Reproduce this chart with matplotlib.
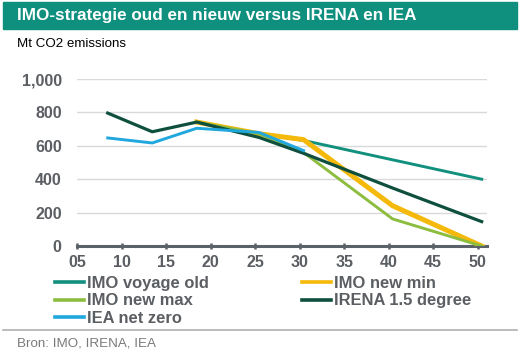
import numpy as np
import matplotlib
matplotlib.use("Agg")
import matplotlib.pyplot as plt
from matplotlib.patches import Rectangle
from matplotlib.lines import Line2D

plt.rcParams['font.family'] = ['Liberation Sans', 'DejaVu Sans']

# data (Mt CO2)
years_imo_old = [2018, 2025, 2030, 2050]
years_imo_new = [2018, 2025, 2030, 2040, 2050]
years_irena = [2008, 2013, 2018, 2025, 2030, 2040, 2050]
years_iea = [2008, 2013, 2018, 2025, 2030]

imo_voyage_old = [742, 672, 632, 400]
imo_new_min = [742, 672, 637, 241, 0]
imo_new_max = [742, 672, 560, 162, 0]
irena_15 = [796, 684, 742, 650, 555, 347, 146]
iea_nz = [647, 617, 705, 680, 571]

xtick_years = list(range(2005, 2051, 5))
xtick_labels = ['05', '10', '15', '20', '25', '30', '35', '40', '45', '50']
yticks = [0, 200, 400, 600, 800, 1000]

c_teal = '#12907e'
c_yellow = '#f4b90a'
c_lgreen = '#8dbd3f'
c_dgreen = '#0e4f3d'
c_blue = '#1fa7de'
c_text = '#5b5e62'

W, H = 523, 354
fig = plt.figure(figsize=(W / 100, H / 100), dpi=100)

# title band
fig.patches.append(Rectangle((3 / W, 1 - 29 / H), 514 / W, 27 / H,
                             transform=fig.transFigure, color='#0f8f7e', zorder=0))
fig.text(17 / W, 1 - 15.5 / H, 'IMO-strategie oud en nieuw versus IRENA en IEA',
         color='white', fontsize=12.3, fontweight='bold', va='center', ha='left')
fig.text(17 / W, 1 - 44 / H, 'Mt CO2 emissions', color='black', fontsize=9.6,
         va='center', ha='left')

ax = fig.add_axes([77 / W, 1 - 246 / H, (487 - 77) / W, (246 - 79) / H])
ax.plot(years_imo_old, imo_voyage_old, color=c_teal, lw=2.1, label='IMO voyage old', zorder=2)
ax.plot(years_imo_new, imo_new_min, color=c_yellow, lw=3.6, label='IMO new min', zorder=3)
ax.plot(years_imo_new, imo_new_max, color=c_lgreen, lw=2.1, label='IMO new max', zorder=4)
ax.plot(years_irena, irena_15, color=c_dgreen, lw=2.3, label='IRENA 1.5 degree', zorder=5)
ax.plot(years_iea, iea_nz, color=c_blue, lw=2.1, label='IEA net zero', zorder=6)

ax.set_xlim(2004.55, 2050.6)
ax.set_ylim(0, 1000)
ax.set_xticks(np.array(xtick_years) - 0.45)
ax.set_xticklabels(xtick_labels)
ax.set_yticks(yticks)
ax.set_yticklabels(['{:,}'.format(v) for v in yticks])
ax.grid(axis='y', color='#d9d9d9', lw=1.0, zorder=0)
ax.set_axisbelow(True)
for s in ['top', 'right', 'left']:
    ax.spines[s].set_visible(False)
ax.spines['bottom'].set_color('#5a6169')
ax.spines['bottom'].set_linewidth(2.2)
ax.spines['bottom'].set_zorder(1)
ax.tick_params(axis='y', length=0, pad=11, labelsize=11.5, labelcolor=c_text)
ax.tick_params(axis='x', direction='inout', length=5, width=1.8, color='#5a6169',
               pad=4, labelsize=11.5, labelcolor=c_text)
for lab in ax.get_xticklabels() + ax.get_yticklabels():
    lab.set_fontweight('bold')

# legend, two columns placed separately
def handle(c, lw):
    return Line2D([], [], color=c, lw=lw)

leg_kw = dict(loc='upper left', frameon=False, borderpad=0, borderaxespad=0,
              handlelength=1.75, handletextpad=0.2, labelspacing=0.15,
              prop={'size': 11.9, 'weight': 'bold'}, labelcolor=c_text)
fig.legend([handle(c_teal, 2.6), handle(c_lgreen, 2.6), handle(c_blue, 2.6)],
           ['IMO voyage old', 'IMO new max', 'IEA net zero'],
           bbox_to_anchor=(55 / W, 1 - 276 / H), **leg_kw)
fig.legend([handle(c_yellow, 2.6), handle(c_dgreen, 2.6)],
           ['IMO new min', 'IRENA 1.5 degree'],
           bbox_to_anchor=(302 / W, 1 - 276 / H), **leg_kw)

fig.add_artist(Line2D([3 / W, 517 / W], [1 - 330 / H, 1 - 330 / H],
                      transform=fig.transFigure, color='#b0b0b0', lw=1.2))
fig.text(17 / W, 1 - 344 / H, 'Bron: IMO, IRENA, IEA', color='#7a7a7a',
         fontsize=9.6, va='center', ha='left')

fig.savefig('out.png', dpi=100)
